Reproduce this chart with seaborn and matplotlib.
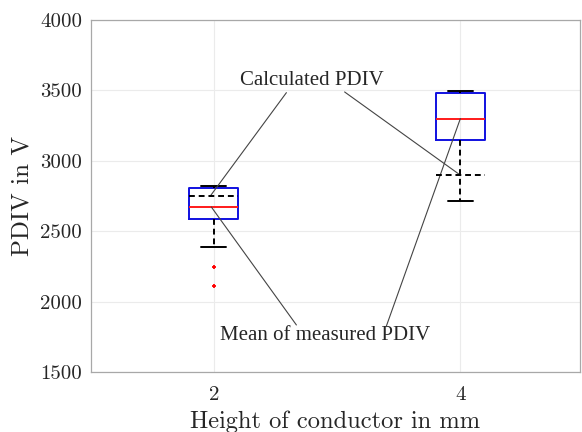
import matplotlib
matplotlib.use("Agg")
import matplotlib.pyplot as plt
import seaborn as sns
import pandas as pd

# Measured partial discharge inception voltages per conductor height
heights = [2, 4]
pdiv_2mm = [2110, 2245, 2385, 2585, 2620, 2650, 2672, 2700, 2760, 2805, 2812, 2818, 2824]
pdiv_4mm = [2715, 3100, 3150, 3250, 3300, 3400, 3485, 3492, 3498]
calculated_pdiv = [2748, 2898]

y_ticks = [1500, 2000, 2500, 3000, 3500, 4000]
x_label = "Height of conductor in mm"
y_label = "PDIV in V"

sns.set_theme(style="whitegrid")
plt.rcParams["font.family"] = ["cmr10", "DejaVu Serif"]
plt.rcParams["mathtext.fontset"] = "cm"
plt.rcParams["axes.unicode_minus"] = False
plt.rcParams["axes.formatter.use_mathtext"] = True

df = pd.DataFrame({
    "height": [heights[0]] * len(pdiv_2mm) + [heights[1]] * len(pdiv_4mm),
    "pdiv": pdiv_2mm + pdiv_4mm,
})

fig = plt.figure(figsize=(5.82, 4.32), dpi=100)
ax = fig.add_axes([0.1555, 0.1389, 0.841, 0.8148])

box_w = 0.2
sns.boxplot(
    data=df, x="height", y="pdiv", native_scale=True, fill=False,
    width=box_w, whis=1.5, ax=ax, color="blue", linewidth=1.4,
    boxprops=dict(color="#1010e0", linewidth=1.4),
    medianprops=dict(color="#ff1a1a", linewidth=1.4),
    whiskerprops=dict(color="black", linestyle=(0, (3, 2)), linewidth=1.4),
    capprops=dict(color="black", linewidth=1.4),
    flierprops=dict(marker="+", markeredgecolor="red", markersize=3.5,
                    markeredgewidth=1.3),
)

# Calculated PDIV shown as dashed bars across each box
half = box_w * 2 / 2
for h, c in zip(heights, calculated_pdiv):
    ax.hlines(c, h - half, h + half, colors="black",
              linestyles=(0, (3, 2)), linewidth=1.4, zorder=5)

ax.set_xlim(1.0, 4.97)
ax.set_ylim(y_ticks[0], y_ticks[-1])
ax.set_xticks(heights)
ax.set_xticklabels([str(h) for h in heights])
ax.set_yticks(y_ticks)
ax.set_yticklabels([str(t) for t in y_ticks])
ax.tick_params(axis="both", direction="in", labelsize=15, length=3,
               color="#9a9a9a", pad=6)
ax.tick_params(axis="x", pad=10)
ax.set_xlabel(x_label, fontsize=17.6, labelpad=5)
ax.set_ylabel(y_label, fontsize=18, labelpad=5)

ax.grid(True, color="#ebebeb", linewidth=0.8)
for s in ax.spines.values():
    s.set_color("#a8a8a8")
    s.set_linewidth(0.9)

# Annotations
line_kw = dict(arrowstyle="-", color="#444444", linewidth=0.8,
               shrinkA=0, shrinkB=0)
text_font = dict(family=["Liberation Serif"], fontsize=15)

ax.text(2.793, 3567, "Calculated PDIV", ha="center", va="center", **text_font)
ax.annotate("", xy=(heights[0] - 0.03, calculated_pdiv[0]), xytext=(2.589, 3484),
            arrowprops=line_kw)
ax.annotate("", xy=(heights[1], calculated_pdiv[1]), xytext=(3.061, 3489),
            arrowprops=line_kw)

ax.text(2.906, 1756, "Mean of measured PDIV", ha="center", va="center", **text_font)
med2 = sorted(pdiv_2mm)[len(pdiv_2mm) // 2]
med4 = sorted(pdiv_4mm)[len(pdiv_4mm) // 2]
ax.annotate("", xy=(heights[0] - 0.02, med2), xytext=(2.670, 1834),
            arrowprops=line_kw)
ax.annotate("", xy=(heights[1], med4), xytext=(3.398, 1822),
            arrowprops=line_kw)

fig.savefig("out.png", dpi=100)
